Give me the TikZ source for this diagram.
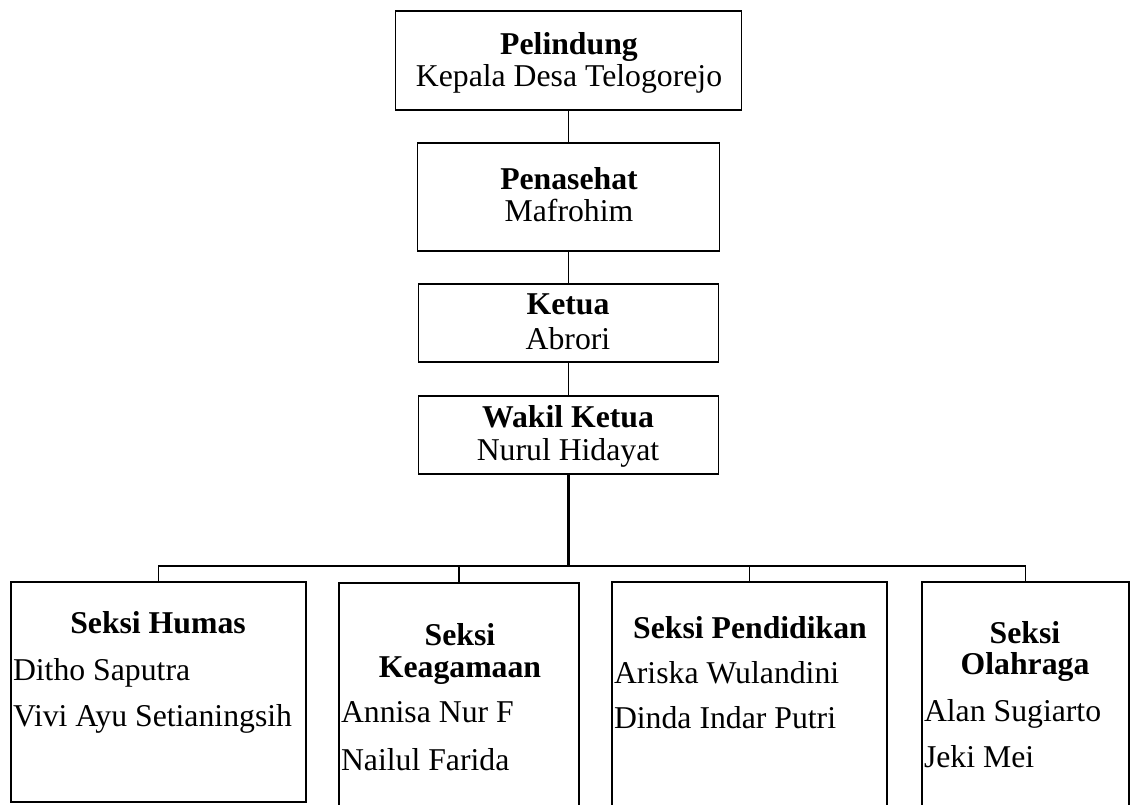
\documentclass[tikz,border=0pt]{standalone}
\usepackage{fontspec}
\setmainfont{Liberation Serif}
\begin{document}
\begin{tikzpicture}[x=0.75pt,y=-0.75pt,
  box/.style={draw=black,line width=1.4pt,fill=none,inner sep=0pt,outer sep=0pt,rectangle},
  conn/.style={draw=black,line width=1.4pt},
  trunk/.style={draw=black,line width=2.2pt},
  txt/.style={inner sep=0pt,outer sep=0pt,font=\fontsize{23.8pt}{26pt}\selectfont},
  head/.style={txt,anchor=base,font=\fontsize{23.8pt}{26pt}\selectfont\bfseries},
  ctr/.style={txt,anchor=base},
  lft/.style={txt,anchor=base west}]
\useasboundingbox (0,0) rectangle (1130,805);
\clip (0,0) rectangle (1130,805);
\fill[white] (0,0) rectangle (1130,805);

% top boxes
\node[box,minimum width={346*0.75pt},minimum height={99*0.75pt}] (pel) at (568.5,60.5) {};
\node[box,minimum width={302*0.75pt},minimum height={108*0.75pt}] (pen) at (568.5,197) {};
\node[box,minimum width={300*0.75pt},minimum height={78*0.75pt}] (ket) at (568.5,323) {};
\node[box,minimum width={300*0.75pt},minimum height={78*0.75pt}] (wak) at (568.5,435) {};

% bottom boxes
\node[box,minimum width={295*0.75pt},minimum height={220*0.75pt}] (hum) at (158.5,692) {};
\node[box,minimum width={240*0.75pt},minimum height={257*0.75pt}] (aga) at (459,711.5) {};
\node[box,minimum width={275*0.75pt},minimum height={258*0.75pt}] (pend) at (749.5,711) {};
\node[box,minimum width={207*0.75pt},minimum height={258*0.75pt}] (ola) at (1025.5,711) {};

% texts top
\node[head] (tpel) at (569,55) {Pelindung};
\node[ctr] (npel) at (569,87) {Kepala Desa Telogorejo};
\node[head] (tpen) at (569,190) {Penasehat};
\node[ctr] (npen) at (569,222) {Mafrohim};
\node[head] (tket) at (568,315) {Ketua};
\node[ctr] (nket) at (568,349) {Abrori};
\node[head] (twak) at (568,427) {Wakil Ketua};
\node[ctr] (nwak) at (568,460) {Nurul Hidayat};

% texts bottom
\node[head] (thum) at (158,633) {Seksi Humas};
\node[lft] (hum1) at (13,680) {Ditho Saputra};
\node[lft] (hum2) at (13,726) {Vivi Ayu Setianingsih};

\node[head] (taga1) at (460,645) {Seksi};
\node[head] (taga2) at (460,677) {Keagamaan};
\node[lft] (aga1) at (341,722) {Annisa Nur F};
\node[lft] (aga2) at (341,770) {Nailul Farida};

\node[head] (tpend) at (750,638) {Seksi Pendidikan};
\node[lft] (pend1) at (614,683) {Ariska Wulandini};
\node[lft] (pend2) at (614,728) {Dinda Indar Putri};

\node[head] (tola1) at (1025,643) {Seksi};
\node[head] (tola2) at (1025,674) {Olahraga};
\node[lft] (ola1) at (924,721) {Alan Sugiarto};
\node[lft] (ola2) at (924,767) {Jeki Mei};

% connectors
\coordinate (bus) at (568.5,566);
\draw[conn] (pel.south) -- (pen.north);
\draw[conn] (pen.south) -- (ket.north);
\draw[conn] (ket.south) -- (wak.north);
\draw[trunk] (wak.south) -- (wak.south |- bus);
\draw[conn] (hum.north) -- (hum.north |- bus) -- (ola.north |- bus) -- (ola.north);
\draw[conn] (aga.north) -- (aga.north |- bus);
\draw[conn] (pend.north) -- (pend.north |- bus);
\end{tikzpicture}
\end{document}
